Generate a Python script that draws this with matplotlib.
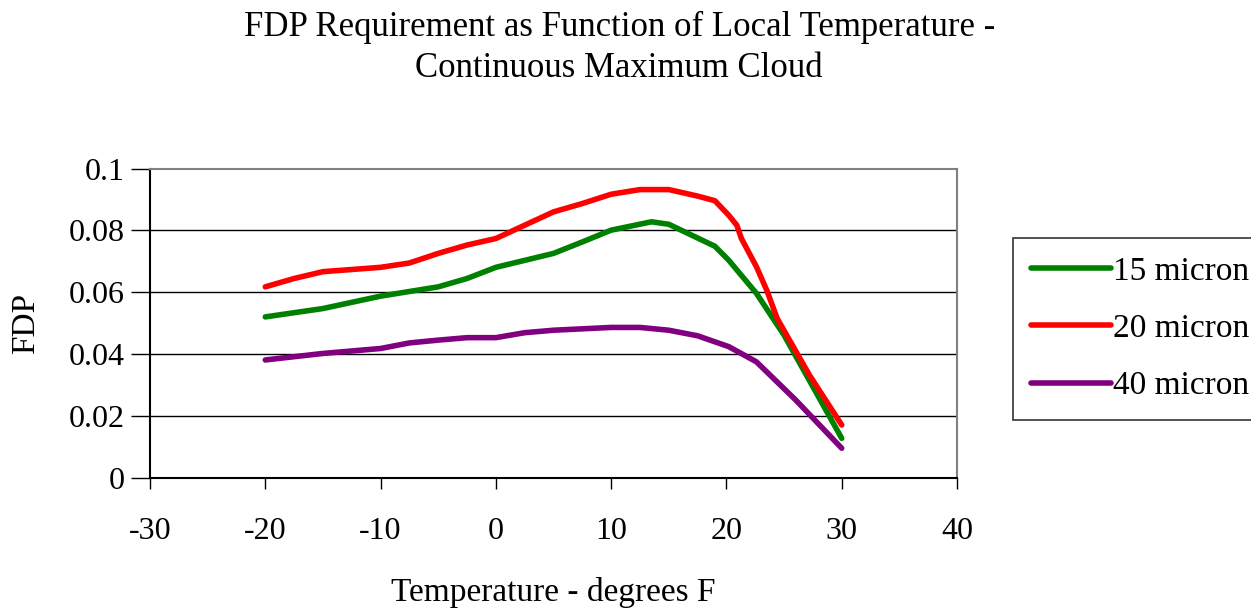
import matplotlib.pyplot as plt

# Curvas de FDP por tamanho de gota
temperatura15 = [-20, -15, -10, -5, -2.5, 0, 5, 7.5, 10, 13.5, 15, 19, 20.2, 22.6, 25, 30]
fdp15 = [0.0521, 0.0548, 0.0588, 0.0618, 0.0645, 0.0681, 0.0726, 0.0763, 0.0801, 0.0828,
         0.0820, 0.0749, 0.0704, 0.0597, 0.0462, 0.0129]

temperatura20 = [-20, -17.5, -15, -10, -7.5, -5, -2.5, 0, 2.5, 5, 7.5, 10, 12.5, 15, 17.5,
                 19, 20.2, 20.9, 21.3, 22.6, 23.5, 24.4, 27.2, 30]
fdp20 = [0.0618, 0.0645, 0.0667, 0.0681, 0.0695, 0.0726, 0.0753, 0.0774, 0.0817, 0.0860,
         0.0887, 0.0917, 0.0932, 0.0932, 0.0911, 0.0896, 0.0849, 0.0817, 0.0774, 0.0683,
         0.0607, 0.0516, 0.0333, 0.0172]

temperatura40 = [-20, -15, -10, -7.5, -5, -2.5, 0, 2.5, 5, 10, 12.5, 15, 17.5, 20.2, 22.6, 26, 30]
fdp40 = [0.0382, 0.0403, 0.0419, 0.0437, 0.0446, 0.0454, 0.0454, 0.0470, 0.0478, 0.0487,
         0.0487, 0.0478, 0.0460, 0.0425, 0.0376, 0.0253, 0.0097]

ticksX = [-30, -20, -10, 0, 10, 20, 30, 40]
ticksY = [0, 0.02, 0.04, 0.06, 0.08, 0.1]
rotulosY = ['0', '0.02', '0.04', '0.06', '0.08', '0.1']

plt.rcParams['font.family'] = ['Liberation Serif', 'DejaVu Serif']

fig = plt.figure(figsize=(12.51, 6.11), dpi=100)
ax = fig.add_axes([0.1199, 0.2172, 0.6451, 0.5070])

ax.plot(temperatura15, fdp15, color='#008000', linewidth=4, label='15 micron', solid_capstyle='round')
ax.plot(temperatura20, fdp20, color='#ff0000', linewidth=4, label='20 micron', solid_capstyle='round')
ax.plot(temperatura40, fdp40, color='#800080', linewidth=4, label='40 micron', solid_capstyle='round')

ax.set_xlim(-30, 40)
ax.set_ylim(0, 0.1)
ax.set_xticks(ticksX)
ax.set_xticklabels([str(t) for t in ticksX])
ax.set_yticks(ticksY)
ax.set_yticklabels(rotulosY)
ax.tick_params(axis='both', labelsize=23, direction='out', color='black', width=1)
ax.tick_params(axis='x', length=8, pad=20)
ax.tick_params(axis='y', length=14, pad=4)

for valor in ticksY[1:-1]:
    ax.axhline(valor, color='black', linewidth=1, zorder=0)

ax.spines['left'].set_color('black')
ax.spines['bottom'].set_color('black')
ax.spines['top'].set_color('#808080')
ax.spines['right'].set_color('#808080')
for lado in ax.spines.values():
    lado.set_linewidth(1.5)

ax.set_xlabel('Temperature - degrees F', fontsize=24, labelpad=22)
ax.set_ylabel('FDP', fontsize=24, labelpad=20)

fig.text(0.495, 0.922, 'FDP Requirement as Function of Local Temperature -\nContinuous Maximum Cloud',
         ha='center', va='center', fontsize=25, linespacing=1.33)

leg = fig.legend(loc='upper left', bbox_to_anchor=(1013 / 1251, 1 - 238 / 611),
                 bbox_transform=fig.transFigure, borderaxespad=0, fontsize=24,
                 frameon=True, fancybox=False, handlelength=2.4, handletextpad=0.05,
                 labelspacing=0.8, borderpad=0.55)
leg.get_frame().set_edgecolor('black')
leg.get_frame().set_linewidth(1.2)

fig.savefig('out.png', dpi=100)
